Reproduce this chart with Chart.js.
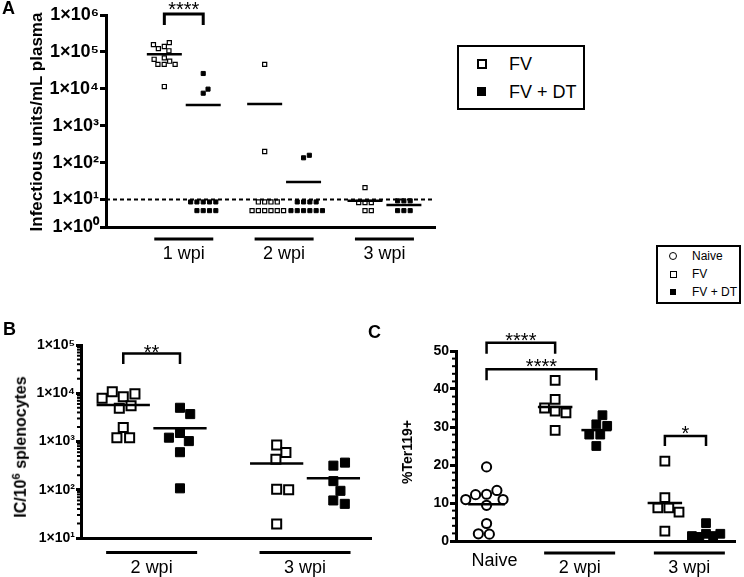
<!DOCTYPE html>
<html>
<head>
<meta charset="utf-8">
<script src="https://cdn.jsdelivr.net/npm/chart.js@4.4.1/dist/chart.umd.min.js"></script>
<style>
  body { margin: 0; background: #fff; width: 744px; height: 577px; position: relative; overflow: hidden;
         font-family: "Liberation Sans", Arial, sans-serif; color: #000; }
  canvas { position: absolute; }
  .txt { position: absolute; white-space: nowrap; }
  .panel { font-weight: bold; font-size: 18px; }
  .ytitle { font-weight: bold; transform: translate(-50%, -50%) rotate(-90deg); }
  .ytitle sup { font-size: 70%; }
  .box { position: absolute; border: 2px solid #000; box-sizing: border-box; }
  .mk { position: absolute; box-sizing: border-box; }
</style>
</head>
<body>
<canvas id="chartA" width="445" height="300" style="left:0;top:0"></canvas>
<canvas id="chartB" width="380" height="247" style="left:0;top:330px"></canvas>
<canvas id="chartC" width="364" height="247" style="left:380px;top:330px"></canvas>

<div class="txt panel" style="left:2px;top:-2px">A</div>
<div class="txt panel" style="left:3px;top:319px">B</div>
<div class="txt panel" style="left:368px;top:322px">C</div>

<div class="txt ytitle" style="left:37px;top:122px;font-size:17px">Infectious units/mL plasma</div>
<div class="txt ytitle" style="left:20px;top:447px;font-size:16px">IC/10<sup>6</sup> splenocytes</div>
<div class="txt ytitle" style="left:407px;top:452px;font-size:14px">%Ter119+</div>

<!-- legend, panel A -->
<div class="box" style="left:457px;top:45px;width:128px;height:65px"></div>
<div class="mk" style="left:477px;top:59px;width:10px;height:10px;border:2px solid #000"></div>
<div class="txt" style="left:509px;top:54px;font-size:18px;line-height:20px">FV</div>
<div class="mk" style="left:477px;top:87px;width:9px;height:9px;background:#000"></div>
<div class="txt" style="left:509px;top:82px;font-size:18px;line-height:20px">FV + DT</div>

<!-- legend, panels B and C -->
<div class="box" style="left:656px;top:245px;width:85px;height:59px"></div>
<div class="mk" style="left:669px;top:252px;width:8px;height:8px;border:1.5px solid #000;border-radius:50%"></div>
<div class="txt" style="left:692px;top:249px;font-size:12px;line-height:14px">Naive</div>
<div class="mk" style="left:669.5px;top:270.5px;width:7px;height:7px;border:1.5px solid #000"></div>
<div class="txt" style="left:692px;top:267px;font-size:12px;line-height:14px">FV</div>
<div class="mk" style="left:670px;top:289px;width:6px;height:6px;background:#000"></div>
<div class="txt" style="left:692px;top:285px;font-size:12px;line-height:14px">FV + DT</div>

<script>
// ---- data ----
// Panel A: infectious units/mL plasma; values under the detection limit are shown as rows below it
const aGroups = ['1 wpi', '2 wpi', '3 wpi'];
const aFV = [
  [1.4e5, 1.07e5, 1.78e5, 1.23e5, 1.57e5, 6.9e4, 5.6e4, 4.6e4, 4.6e4, 4.6e4, 6.3e4, 1.15e4],
  [4.6e4, 200, 8.6, 8.6, 8.6, 8.6, 5, 5, 5, 5, 5, 5],
  [21, 8.3, 8.3, 8.3, 5, 5]
];
const aDT = [
  [2.6e4, 7.6e3, 9.8e3, 8.6, 8.6, 8.6, 8.6, 8.6, 5, 5, 5, 5],
  [135, 158, 8.6, 8.6, 8.6, 8.6, 5, 5, 5, 5, 5, 5],
  [9.2, 9.2, 9.2, 5, 5, 5]
];
const aLOD = 10;
const aTicks = [1, 10, 100, 1e3, 1e4, 1e5, 1e6];
const aTickLabels = ['1×10⁰', '1×10¹', '1×10²', '1×10³', '1×10⁴', '1×10⁵', '1×10⁶'];

// Panel B: IC per 10^6 splenocytes
const bGroups = ['2 wpi', '3 wpi'];
const bFV = [
  [8.5e3, 9.7e3, 5.5e3, 1.07e4, 4.9e3, 7.9e3, 1.95e3, 1.2e3, 1.2e3],
  [850, 590, 430, 102, 100, 19.5]
];
const bDT = [
  [5.0e3, 3.7e3, 1.5e3, 1.02e3, 1.2e3, 600, 107],
  [316, 365, 151, 95, 60, 51]
];
const bTicks = [10, 100, 1e3, 1e4, 1e5];
const bTickLabels = ['1×10¹', '1×10²', '1×10³', '1×10⁴', '1×10⁵'];

// Panel C: %Ter119+
const cNaive = [19.5, 12.3, 13.3, 12.2, 10.9, 10.9, 9.4, 4.6, 1.8, 1.9];
const cGroups = ['2 wpi', '3 wpi'];
const cFV = [[42.3, 37.3, 34.2, 33.7, 35, 29.1], [21, 11.4, 8.7, 8.7, 7.6, 2.6]];
const cDT = [[30.7, 33.1, 30.3, 28, 28, 25], [4.7, 1.9, 1.3, 1.0, 1.3, 1.9]];

// ---- drawing ----
Chart.defaults.font.family = '"Liberation Sans", Arial, sans-serif';
Chart.defaults.color = '#000';
Chart.defaults.animation = false;

const mean = a => a.reduce((s, v) => s + v, 0) / a.length;

const openSq = r => ({ pointStyle: 'rect', pointRadius: r, pointBackgroundColor: '#fff', pointBorderColor: '#000', pointBorderWidth: r > 4 ? 2 : 1.2 });
const fillSq = r => ({ pointStyle: 'rect', pointRadius: r, pointBackgroundColor: '#000', pointBorderColor: '#000', pointBorderWidth: 1 });
const openCircle = { pointStyle: 'circle', pointRadius: 4.6, pointBackgroundColor: '#fff', pointBorderColor: '#000', pointBorderWidth: 2 };

function points(values, center, style, gap) {
  return Object.assign({ data: values.map(v => ({ x: center, y: v })), swarmCenter: center, swarmGap: gap,
                         order: 1, clip: false }, style);
}
function meanLine(values, center, half, width) {
  const m = mean(values);
  return { data: [{ x: center - half, y: m }, { x: center + half, y: m }], showLine: true, pointRadius: 0,
           borderColor: '#000', borderWidth: width, order: 0, clip: false };
}

// spread points of one column sideways so that they do not overlap (like a dot plot)
function swarm(chart, defaultGap) {
  const xs = chart.scales.x, ys = chart.scales.y;
  chart.data.datasets.forEach(ds => {
    if (ds.swarmCenter === undefined) return;
    const gap = ds.swarmGap || defaultGap;
    const cx = xs.getPixelForValue(ds.swarmCenter);
    const placed = [];
    ds.data.forEach(p => {
      const py = ys.getPixelForValue(p.y);
      const cands = [0];
      placed.forEach(q => {
        const dy = Math.abs(q.py - py);
        if (dy < gap) {
          const dx = Math.sqrt(gap * gap - dy * dy);
          cands.push(q.dx + dx, q.dx - dx);
        }
      });
      cands.sort((a, b) => Math.abs(a) - Math.abs(b));
      const dx = cands.find(c => placed.every(q => (q.dx - c) ** 2 + (q.py - py) ** 2 >= gap * gap - 0.01));
      placed.push({ dx, py });
      p.x = xs.getValueForPixel(cx + dx);
    });
  });
  chart.update('none');
}

const decor = {
  id: 'decor',
  afterDraw(chart, args, o) {
    const { ctx, chartArea: area, scales: { x, y } } = chart;
    ctx.save();
    ctx.strokeStyle = '#000';
    ctx.fillStyle = '#000';
    if (o.lod) {
      const py = y.getPixelForValue(o.lod);
      ctx.setLineDash([4, 3]);
      ctx.lineWidth = 2;
      ctx.beginPath(); ctx.moveTo(area.left, py); ctx.lineTo(area.right, py); ctx.stroke();
      ctx.setLineDash([]);
    }
    if (o.minor) {
      ctx.lineWidth = 2;
      o.minor.forEach(v => {
        const py = y.getPixelForValue(v);
        ctx.beginPath(); ctx.moveTo(area.left, py); ctx.lineTo(area.left - 4, py); ctx.stroke();
      });
    }
    ctx.lineWidth = 3;
    ctx.font = '18px "Liberation Sans", Arial, sans-serif';
    ctx.textAlign = 'center';
    ctx.textBaseline = 'alphabetic';
    o.groups.forEach(g => {
      const px = x.getPixelForValue(g.at);
      if (g.bar) {
        const by = area.bottom + o.barDy;
        ctx.beginPath(); ctx.moveTo(px - g.bar, by); ctx.lineTo(px + g.bar, by); ctx.stroke();
      }
      ctx.fillText(g.label, px, area.bottom + g.dy);
    });
    ctx.lineWidth = o.bracketWidth;
    ctx.font = '20px "Liberation Sans", Arial, sans-serif';
    o.brackets.forEach(b => {
      const x1 = x.getPixelForValue(b.x1), x2 = x.getPixelForValue(b.x2);
      const top = y.getPixelForValue(b.y);
      ctx.beginPath();
      ctx.moveTo(x1, top + b.leg); ctx.lineTo(x1, top); ctx.lineTo(x2, top); ctx.lineTo(x2, top + b.leg);
      ctx.stroke();
      ctx.fillText(b.text, (x1 + x2) / 2, top + o.starDy);
    });
    ctx.restore();
  }
};

function yAxis(width, tickFont) {
  return {
    border: { display: true, width: 3, color: '#000' },
    grid: { drawOnChartArea: false, tickLength: 6, lineWidth: 3, color: '#000' },
    ticks: { font: { size: tickFont, weight: 'bold' }, padding: 1, color: '#000' },
    afterFit: s => { s.width = width; }
  };
}
function xAxis(max, height) {
  return {
    type: 'linear', min: 0, max: max,
    border: { display: true, width: 3, color: '#000' },
    grid: { display: false, drawTicks: false },
    ticks: { display: false },
    afterFit: s => { s.height = height; }
  };
}

// ---------- Panel A ----------
const aSlot = (g, s) => 1.5 + g * 2.58 + s;
const aDatasets = [];
aGroups.forEach((name, g) => {
  aDatasets.push(meanLine(aFV[g], aSlot(g, 0), 0.45, 2.5), meanLine(aDT[g], aSlot(g, 1), 0.45, 2.5));
  aDatasets.push(points(aFV[g], aSlot(g, 0), openSq(2.9)), points(aDT[g], aSlot(g, 1), fillSq(2.9)));
});
const aYAxis = yAxis(106, 18);
Object.assign(aYAxis, {
  type: 'logarithmic', min: 1.8, max: 1e6,
  afterBuildTicks: s => { s.ticks = aTicks.map((v, i) => ({ value: i === 0 ? 1.8 : v })); }
});
aYAxis.ticks.callback = (v, i) => aTickLabels[i];
const chartA = new Chart(document.getElementById('chartA'), {
  type: 'scatter',
  data: { datasets: aDatasets },
  options: {
    responsive: false,
    layout: { padding: { top: 15, right: 10, left: 0, bottom: 0 } },
    scales: { x: xAxis(8.46, 73), y: aYAxis },
    plugins: {
      legend: { display: false }, tooltip: { enabled: false },
      decor: {
        lod: aLOD,
        groups: aGroups.map((label, g) => ({ label, at: (aSlot(g, 0) + aSlot(g, 1)) / 2, bar: 29.5, dy: 32 })),
        barDy: 12,
        brackets: [{ x1: aSlot(0, 0), x2: aSlot(0, 1), y: 1.07e6, leg: 11, text: '****' }],
        bracketWidth: 3, starDy: 2
      }
    }
  },
  plugins: [decor]
});
swarm(chartA, 6.3);

// ---------- Panel B ----------
const bSlot = (g, s) => 0.73 + g * 2.65 + s * 0.98;
const bDatasets = [];
bGroups.forEach((name, g) => {
  bDatasets.push(meanLine(bFV[g], bSlot(g, 0), 0.46, 2.5), meanLine(bDT[g], bSlot(g, 1), 0.46, 2.5));
  bDatasets.push(points(bFV[g], bSlot(g, 0), openSq(6.4)), points(bDT[g], bSlot(g, 1), fillSq(6.4)));
});
const bMinor = [];
bTicks.slice(0, -1).forEach(d => { for (let k = 2; k <= 9; k++) bMinor.push(k * d); });
const bYAxis = yAxis(81, 14);
Object.assign(bYAxis, {
  type: 'logarithmic', min: 10, max: 1e5,
  afterBuildTicks: s => { s.ticks = bTicks.map(v => ({ value: v })); }
});
bYAxis.grid.tickLength = 5;
bYAxis.ticks.callback = (v, i) => bTickLabels[i];
const chartB = new Chart(document.getElementById('chartB'), {
  type: 'scatter',
  data: { datasets: bDatasets },
  options: {
    responsive: false,
    layout: { padding: { top: 15, right: 8, left: 0, bottom: 0 } },
    scales: { x: xAxis(5.02, 39), y: bYAxis },
    plugins: {
      legend: { display: false }, tooltip: { enabled: false },
      decor: {
        minor: bMinor,
        groups: bGroups.map((label, g) => ({ label, at: (bSlot(g, 0) + bSlot(g, 1)) / 2, bar: 45.5, dy: 35 })),
        barDy: 14.5,
        brackets: [{ x1: bSlot(0, 0), x2: bSlot(0, 1), y: 6.7e4, leg: 10.5, text: '**' }],
        bracketWidth: 2.5, starDy: 6
      }
    }
  },
  plugins: [decor]
});
swarm(chartB, 12);

// ---------- Panel C ----------
const cNaiveAt = 0.78;
const cSlot = (g, s) => 2.53 + g * 2.8 + s * 1.05;
const cDatasets = [meanLine(cNaive, cNaiveAt, 0.47, 2.5), points(cNaive, cNaiveAt, openCircle)];
cGroups.forEach((name, g) => {
  cDatasets.push(meanLine(cFV[g], cSlot(g, 0), 0.44, 2.5), meanLine(cDT[g], cSlot(g, 1), 0.38, 2.5));
  cDatasets.push(points(cFV[g], cSlot(g, 0), openSq(6.2)),
                 points(cDT[g], cSlot(g, 1), fillSq(6.2), g === 1 ? 7.5 : undefined));
});
const cMinor = [];
for (let v = 2; v < 50; v += 2) if (v % 10) cMinor.push(v);
const cYAxis = yAxis(76, 14);
Object.assign(cYAxis, { type: 'linear', min: 0, max: 50 });
cYAxis.ticks.stepSize = 10;
const chartC = new Chart(document.getElementById('chartC'), {
  type: 'scatter',
  data: { datasets: cDatasets },
  options: {
    responsive: false,
    layout: { padding: { top: 21, right: 2, left: 0, bottom: 0 } },
    scales: { x: xAxis(7.14, 36), y: cYAxis },
    plugins: {
      legend: { display: false }, tooltip: { enabled: false },
      decor: {
        minor: cMinor,
        groups: [{ label: 'Naive', at: 0.98, bar: 0, dy: 25 }].concat(
          cGroups.map((label, g) => ({ label, at: (cSlot(g, 0) + cSlot(g, 1)) / 2 + 0.1, bar: 35.5, dy: 32 }))),
        barDy: 12,
        brackets: [
          { x1: cNaiveAt, x2: cSlot(0, 0), y: 52.2, leg: 11, text: '****' },
          { x1: cNaiveAt, x2: cSlot(0, 1), y: 45.2, leg: 11, text: '****' },
          { x1: cSlot(1, 0), x2: cSlot(1, 1), y: 27.6, leg: 10, text: '*' }
        ],
        bracketWidth: 2.5, starDy: 4
      }
    }
  },
  plugins: [decor]
});
swarm(chartC, 11);
</script>
</body>
</html>
